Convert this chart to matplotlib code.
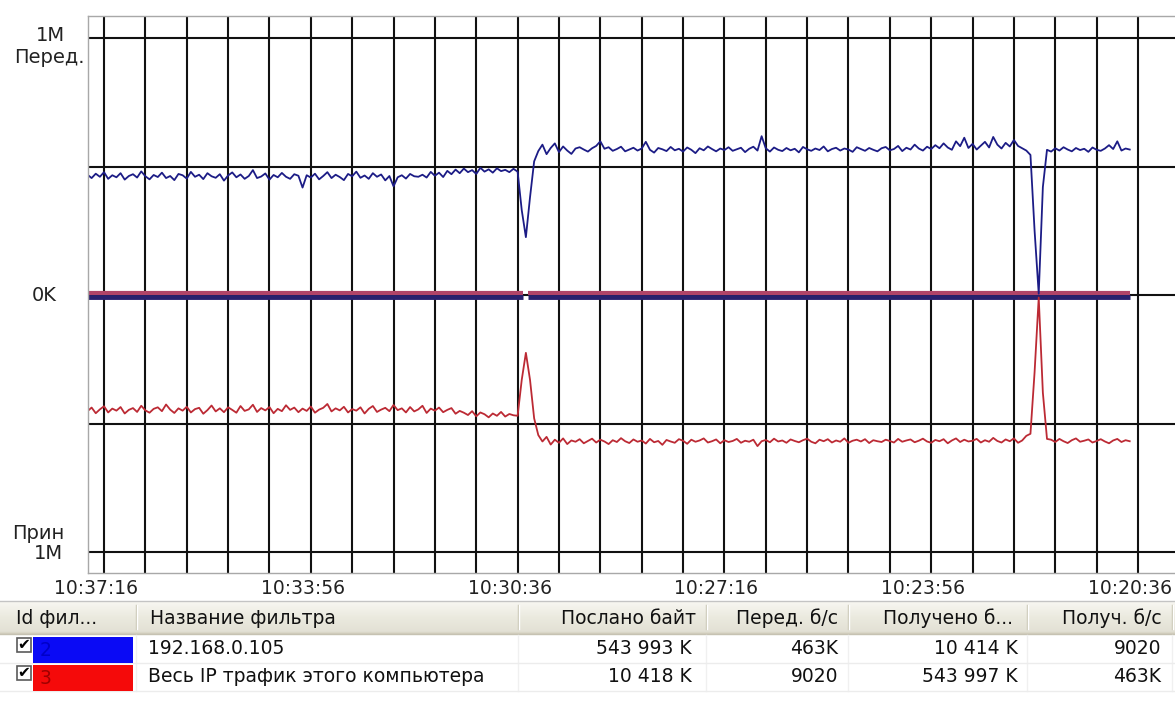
import numpy as np
import matplotlib.pyplot as plt
from matplotlib.patches import Rectangle
from matplotlib.colors import LinearSegmentedColormap
from matplotlib.transforms import ScaledTranslation

plt.rcParams['font.family'] = ['DejaVu Sans']

# one sample every 4 s, seconds after 10:37:16 (chart runs back in time)
t = np.arange(-16, 993, 4)

# 192.168.0.105, sent (K/s)
blue_send = [
    468, 455, 472, 460, 478, 452, 466, 458, 474, 449, 463, 470, 457,
    481, 462, 450, 467, 459, 476, 455, 463, 447, 471, 466, 453, 479,
    460, 468, 451, 474, 462, 456, 470, 445, 465, 477, 458, 469, 452,
    463, 486, 455, 461, 473, 449, 467, 458, 475, 460, 452, 470, 464,
    418, 466, 457, 472, 450, 463, 478, 455, 468, 459, 447, 471, 462,
    480, 456, 465, 452, 474, 460, 469, 446, 463, 423, 458, 466, 453,
    471, 462, 460, 468, 457, 479, 464, 476, 459, 483, 470, 488, 474,
    492, 478, 486, 471, 495, 480, 489, 476, 493, 482, 487, 478, 491,
    480, 330, 225, 380, 520,
    560, 585, 548, 572, 590, 556, 578, 562, 549, 570, 575, 566,
    558, 571, 580, 598, 569, 575, 561, 568, 577, 559, 566, 573,
    562, 570, 596, 565, 554, 572, 567, 560, 576, 563, 569, 558,
    574, 565, 552, 571, 563, 578, 568, 559, 570, 564, 575, 561,
    567, 573, 556, 569, 577, 562, 618, 571, 558, 574, 565, 560,
    572, 563, 569, 555, 576, 567, 561, 570, 564, 578, 559, 568,
    573, 562, 570, 566, 557, 575, 568, 561, 572, 565, 559, 571,
    576, 563, 568, 580, 560, 573, 566, 585, 570, 562, 577, 568,
    583, 571, 590, 574, 565, 598, 579, 612, 572, 588, 566, 581,
    596, 574, 615, 585, 570, 592, 578, 603, 580, 571, 562,
    545, 250, 5, 420, 565,
    558, 571, 562, 575, 566, 559, 572, 564, 569, 557, 574, 565, 561,
    570, 583, 568, 598, 562, 570, 566,
]

# all IP traffic, received (K/s)
red_recv = [
    452, 438, 460, 445, 433, 457, 442, 450, 436, 461, 447, 440, 455,
    431, 449, 458, 443, 437, 452, 426, 446, 459, 441, 450, 435, 457,
    444, 439, 462, 448, 430, 453, 441, 456, 437, 447, 458, 432, 451,
    445, 427, 455, 440, 449, 436, 460, 443, 452, 429, 447, 438, 456,
    442, 451, 434, 458, 446, 439, 424, 453, 441, 449, 435, 457, 444,
    450, 437, 461, 443, 432, 455, 446, 439, 452, 428, 448, 441, 457,
    436, 453, 445, 431, 459, 442, 450, 438, 456, 447, 440, 462, 451,
    458, 467, 452, 472, 457, 464, 476, 461, 470, 455, 473, 463, 468,
    470, 330, 225, 330, 480,
    545, 570, 552, 582, 563, 575, 558, 580, 566, 571, 561, 577,
    568, 559, 574, 563, 570, 580, 565, 572, 557, 569, 576, 562,
    571, 566, 578, 560, 573, 568, 583, 564, 570, 575, 561, 567,
    579, 563, 571, 566, 558, 574, 569, 562, 577, 565, 572, 568,
    560, 575, 567, 571, 563, 588, 569, 564, 573, 559, 570, 566,
    575, 562, 568, 573, 565, 559, 571, 577, 563, 569, 561, 574,
    566, 571, 558, 575, 567, 563, 570, 561, 576, 565, 569, 572,
    563, 568, 574, 560, 571, 566, 562, 573, 567, 559, 570, 575,
    564, 569, 561, 577, 566, 558, 572, 563, 570, 567, 560, 574,
    565, 571, 556, 568, 574, 562, 569, 558, 575, 566, 548,
    540, 300, 10, 380, 560,
    563, 572, 560, 569, 576, 565, 558, 571, 567, 562, 574, 568, 561,
    570, 577, 566, 560, 572, 565, 569,
]

# the two ~9 K/s series, flat with a short dropout
flat_t = [-16, 405, 407, 410, 992]
red_send = [9, 9, np.nan, 9, 9]
blue_recv = [9, 9, np.nan, 9, 9]

time_labels = ['10:37:16', '10:33:56', '10:30:36', '10:27:16', '10:23:56', '10:20:36']

columns = ['Id фил...', 'Название фильтра', 'Послано байт', 'Перед. б/с', 'Получено б...', 'Получ. б/с']
filter_ids = ['2', '3']
filter_names = ['192.168.0.105', 'Весь IP трафик этого компьютера']
sent_bytes = ['543 993 K', '10 418 K']
send_rate = ['463K', '9020']
recv_bytes = ['10 414 K', '543 997 K']
recv_rate = ['9020', '463K']
swatch_colors = ['#0a0af5', '#f50a0a']
id_colors = ['#0000c8', '#a00000']

W, H = 1175, 716
fig = plt.figure(figsize=(W / 100, H / 100), dpi=100)
ax = fig.add_axes([88 / W, 1 - 573 / H, 1 - 88 / W, 557 / H])

ax.plot(flat_t, red_send, color='#b04468', lw=3, solid_capstyle='butt')
ax.plot(flat_t, -np.array(blue_recv, dtype=float), color='#28206e', lw=3.5, solid_capstyle='butt')
ax.plot(t, blue_send, color='#1c1c86', lw=1.3)
ax.plot(t, -np.array(red_recv), color='#bc2a34', lw=1.3)

ax.set_xlim(-15.5, 1035.8)
ax.set_ylim(-1081.7, 1085.6)

ticks = np.arange(0, 1001, 40)
ax.set_xticks(ticks)
ax.set_xticklabels([time_labels[i // 5] if i % 5 == 0 else '' for i in range(len(ticks))])
ax.set_yticks([-1000, -500, 0, 500, 1000])
ax.set_yticklabels([])
ax.set_axisbelow(True)
ax.grid(True, color='#111111', lw=1.5)
ax.tick_params(length=0, labelsize=13.5, pad=4, colors='#222222')
for lbl in ax.get_xticklabels():
    lbl.set_transform(lbl.get_transform() + ScaledTranslation(-0.08, 0, fig.dpi_scale_trans))

for s in ['left', 'top', 'bottom']:
    ax.spines[s].set_color('#a8a8a8')
    ax.spines[s].set_linewidth(1)
ax.spines['right'].set_visible(False)

def ylab(txt, yval, dx, dy, ha):
    ax.annotate(txt, xy=(0, yval), xycoords=('axes fraction', 'data'),
                xytext=(dx, dy), textcoords='offset pixels',
                ha=ha, va='center', fontsize=14, color='#222222')

ylab('1M', 1000, -38, 2, 'center')
ylab('Перед.', 1000, -39, -20, 'center')
ylab('0K', 0, -31, 0, 'right')
ylab('Прин', -1000, -24, 19, 'right')
ylab('1M', -1000, -25, -1, 'right')

# filter table under the chart (pixel coordinates)
tab = fig.add_axes([0, 0, 1, 1])
tab.set_xlim(0, W)
tab.set_ylim(H, 0)
tab.axis('off')

hdr = LinearSegmentedColormap.from_list('hdr', ['#f8f7f2', '#ebeadf', '#e2e0d4'])
tab.imshow(np.linspace(0, 1, 40).reshape(-1, 1), cmap=hdr, aspect='auto',
           extent=[0, W, 633, 601], zorder=0)
tab.plot([0, W], [600.5, 600.5], color='#c4c4c4', lw=1)
for yy, cc in [(631.5, '#dcdacb'), (632.5, '#d2cebe'), (633.5, '#c6c2b2')]:
    tab.plot([0, W], [yy, yy], color=cc, lw=1)

col_edges = [136, 518, 706, 848, 1027, 1172]
for xe in col_edges:
    tab.plot([xe, xe], [605, 629], color='#c8c5b3', lw=1)
    tab.plot([xe + 1, xe + 1], [605, 629], color='white', lw=1)
    tab.plot([xe, xe], [635, 691], color='#f0f0f0', lw=1)

fs = 13.5
hx = [(16, 'left'), (150, 'left'), (696, 'right'), (838, 'right'), (1013, 'right'), (1162, 'right')]
for (xx, ha), name in zip(hx, columns):
    tab.text(xx, 618, name, ha=ha, va='center', fontsize=fs, color='#111111')

row_y = [649, 677]
for r in range(2):
    yc = row_y[r]
    top = yc - 12.5
    tab.add_patch(Rectangle((0, top), W, 26, color='white', zorder=0))
    tab.plot([0, W], [top + 26.5, top + 26.5], color='#ececec', lw=1)
    tab.add_patch(Rectangle((33, top), 100, 26, color=swatch_colors[r], lw=0, zorder=2))
    tab.text(40, yc + 1, filter_ids[r], ha='left', va='center', fontsize=fs, color=id_colors[r], zorder=3)
    tab.add_patch(Rectangle((17, yc - 11), 14, 14, facecolor='white', edgecolor='#5a5a5a', lw=1.2, zorder=2))
    tab.text(24, yc - 4, '✔', ha='center', va='center', fontsize=11, color='black', zorder=3)
    tab.text(148, yc, filter_names[r], ha='left', va='center', fontsize=fs, color='#111111')
    tab.text(692, yc, sent_bytes[r], ha='right', va='center', fontsize=fs, color='#111111')
    tab.text(838, yc, send_rate[r], ha='right', va='center', fontsize=fs, color='#111111')
    tab.text(1018, yc, recv_bytes[r], ha='right', va='center', fontsize=fs, color='#111111')
    tab.text(1161, yc, recv_rate[r], ha='right', va='center', fontsize=fs, color='#111111')

fig.savefig('out.png', dpi=100)
